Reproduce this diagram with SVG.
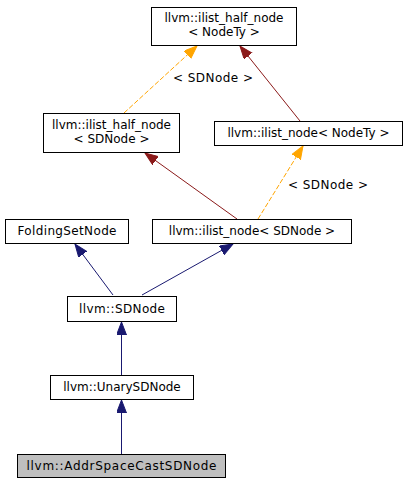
<svg xmlns="http://www.w3.org/2000/svg" width="412" height="483" viewBox="0 0 412 483">
<style>
  .box { fill: #ffffff; stroke: #000000; stroke-width: 1; }
  .cur { fill: #bfbfbf; stroke: #000000; stroke-width: 1; }
  text { font-family: "DejaVu Sans", "Liberation Sans", sans-serif; font-size: 12px; fill: #000000; text-anchor: middle; }
  .navy { stroke: #191970; stroke-width: 1; fill: none; }
  .red { stroke: #8b1a1a; stroke-width: 1; fill: none; }
  .orange { stroke: #ffa500; stroke-width: 1; fill: none; stroke-dasharray: 5,2; }
</style>
<defs>
  <marker id="aNavy" markerUnits="userSpaceOnUse" markerWidth="14" markerHeight="11" refX="13" refY="5" orient="auto">
    <path d="M0,0 L13,5 L0,10 z" fill="#191970" stroke="#191970"/>
  </marker>
  <marker id="aRed" markerUnits="userSpaceOnUse" markerWidth="14" markerHeight="11" refX="13" refY="5" orient="auto">
    <path d="M0,0 L13,5 L0,10 z" fill="#8b1a1a" stroke="#8b1a1a"/>
  </marker>
  <marker id="aOrange" markerUnits="userSpaceOnUse" markerWidth="14" markerHeight="11" refX="13" refY="5" orient="auto">
    <path d="M0,0 L13,5 L0,10 z" fill="#ffa500" stroke="#ffa500"/>
  </marker>
</defs>
<rect width="412" height="483" fill="#ffffff"/>
<g id="connectors">
  <line class="orange" x1="124" y1="113" x2="197" y2="46" marker-end="url(#aOrange)"/>
  <text x="213" y="82" textLength="80">&lt; SDNode &gt;</text>
  <line class="red" x1="300" y1="121" x2="240" y2="46" marker-end="url(#aRed)"/>
  <line class="red" x1="237" y1="219" x2="145" y2="153" marker-end="url(#aRed)"/>
  <line class="orange" x1="258" y1="219" x2="303" y2="146" marker-end="url(#aOrange)"/>
  <text x="328" y="189" textLength="80">&lt; SDNode &gt;</text>
  <line class="navy" x1="113" y1="295" x2="75" y2="244" marker-end="url(#aNavy)"/>
  <line class="navy" x1="142" y1="295" x2="233" y2="244" marker-end="url(#aNavy)"/>
  <line class="navy" x1="121.5" y1="375" x2="121.5" y2="322" marker-end="url(#aNavy)"/>
  <line class="navy" x1="121.5" y1="454" x2="121.5" y2="400" marker-end="url(#aNavy)"/>
</g>
<g id="node_ilist_half_node_NodeTy">
  <rect class="box" x="151.5" y="7.5" width="145" height="38"/>
  <text x="224" y="22">llvm::ilist_half_node</text>
  <text x="224" y="36">&lt; NodeTy &gt;</text>
</g>
<g id="node_ilist_half_node_SDNode">
  <rect class="box" x="43.5" y="113.5" width="136" height="39"/>
  <text x="111.5" y="129">llvm::ilist_half_node</text>
  <text x="111.5" y="143">&lt; SDNode &gt;</text>
</g>
<g id="node_ilist_node_NodeTy">
  <rect class="box" x="214.5" y="121.5" width="188" height="24"/>
  <text x="308.5" y="137">llvm::ilist_node&lt; NodeTy &gt;</text>
</g>
<g id="node_FoldingSetNode">
  <rect class="box" x="5.5" y="219.5" width="123" height="24"/>
  <text x="67" y="235" textLength="99">FoldingSetNode</text>
</g>
<g id="node_ilist_node_SDNode">
  <rect class="box" x="152.5" y="219.5" width="199" height="24"/>
  <text x="252" y="235">llvm::ilist_node&lt; SDNode &gt;</text>
</g>
<g id="node_SDNode">
  <rect class="box" x="67.5" y="296.5" width="109" height="25"/>
  <text x="122" y="313" textLength="86">llvm::SDNode</text>
</g>
<g id="node_UnarySDNode">
  <rect class="box" x="50.5" y="375.5" width="143" height="24"/>
  <text x="122" y="391">llvm::UnarySDNode</text>
</g>
<g id="node_AddrSpaceCastSDNode">
  <rect class="cur" x="17.5" y="454.5" width="208" height="23"/>
  <text x="121.5" y="470" textLength="190">llvm::AddrSpaceCastSDNode</text>
</g>
</svg>
